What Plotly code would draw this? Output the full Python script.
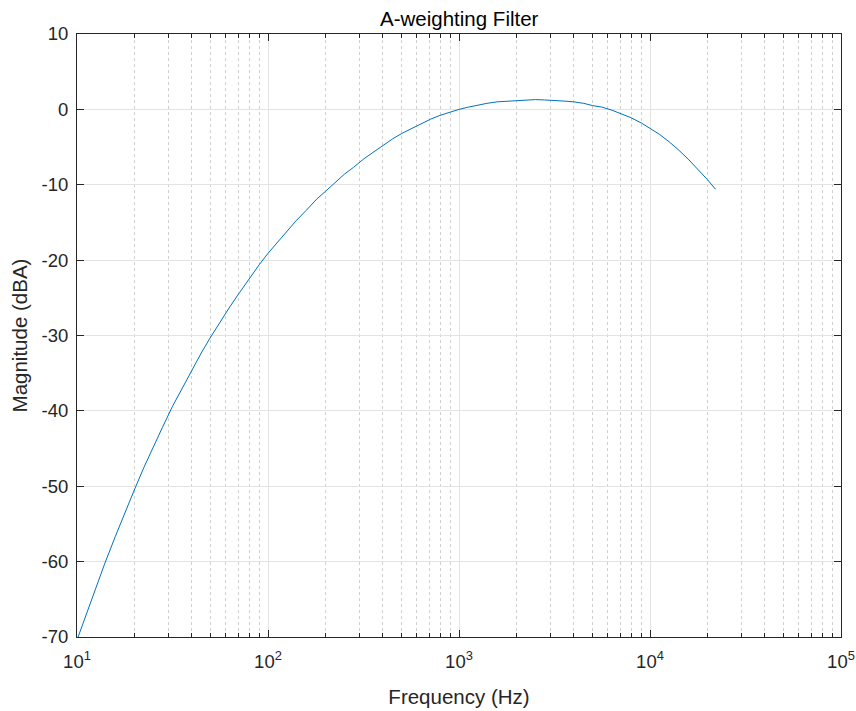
import plotly.graph_objects as go

# Frequencies (Hz) and magnitudes (dBA)
freq_hz = [10, 11.2, 12.59, 14, 15.85, 18, 19.95, 22.4, 25.12, 28, 31.62, 35.5, 39.81,
           45, 50.12, 56, 63.1, 71, 79.43, 90, 100, 112, 125.9, 140, 158.5, 180, 199.5,
           224, 251.2, 280, 316.2, 355, 398.1, 450, 501.2, 560, 631, 710, 794.3, 900,
           1000, 1120, 1259, 1400, 1585, 1800, 1995, 2240, 2512, 2800, 3162, 3550,
           3981, 4500, 5012, 5600, 6310, 7100, 7943, 9000, 10000, 11200, 12589, 14000,
           15849, 18000, 19953, 22050]
mag_dba = [-70.4, -66.9, -63.4, -60.2, -56.7, -53.2, -50.5, -47.5, -44.7, -42.2, -39.4,
           -37.0, -34.6, -32.2, -30.2, -28.2, -26.2, -24.3, -22.5, -20.6, -19.1, -17.6,
           -16.1, -14.8, -13.4, -11.9, -10.9, -9.7, -8.6, -7.7, -6.6, -5.7, -4.8, -3.9,
           -3.2, -2.6, -1.9, -1.3, -0.8, -0.35, 0.0, 0.3, 0.6, 0.8, 1.0, 1.1, 1.2, 1.25,
           1.3, 1.25, 1.2, 1.1, 1.0, 0.8, 0.5, 0.3, -0.1, -0.6, -1.1, -1.8, -2.5, -3.3,
           -4.3, -5.3, -6.6, -8.05, -9.3, -10.6]

x_tick_vals = [10, 100, 1000, 10000, 100000]
x_tick_text = ["10<sup>1</sup>", "10<sup>2</sup>", "10<sup>3</sup>", "10<sup>4</sup>", "10<sup>5</sup>"]
y_tick_vals = [-70, -60, -50, -40, -30, -20, -10, 0, 10]
y_tick_text = ["-70", "-60", "-50", "-40", "-30", "-20", "-10", "0", "10"]

FONT = "Liberation Sans, Arial, Helvetica, sans-serif"
AX = "#262626"

fig = go.Figure()
fig.add_trace(go.Scatter(x=freq_hz, y=mag_dba, mode="lines",
                         line=dict(color="#0072BD", width=1),
                         showlegend=False, cliponaxis=True))

fig.update_layout(
    width=856, height=711,
    margin=dict(l=77, r=15, t=34, b=74),
    paper_bgcolor="white", plot_bgcolor="white",
    font=dict(family=FONT, color=AX, size=18),
    title=dict(text="A-weighting Filter", x=0.5365, xanchor="center",
               y=1 - 18.5 / 711, yanchor="middle", yref="container",
               font=dict(size=20.5, color="black")),
)

fig.update_xaxes(
    type="log", range=[1, 5],
    tickvals=x_tick_vals, ticktext=x_tick_text,
    ticks="inside", ticklen=7, tickwidth=1, tickcolor=AX,
    showline=True, linecolor=AX, linewidth=1, mirror="ticks",
    showgrid=True, gridcolor="#e3e3e3", gridwidth=1,
    zeroline=False,
    tickfont=dict(size=18.5, color=AX), ticklabelstandoff=8,
    minor=dict(dtick="D1", ticks="inside", ticklen=4, tickcolor=AX,
               showgrid=True, gridcolor="#cfcfcf", griddash="dot", gridwidth=1),
    title=dict(text="Frequency (Hz)", font=dict(size=20.5, color=AX), standoff=18),
    automargin=False,
)
fig.update_yaxes(
    range=[-70, 10], tickvals=y_tick_vals, ticktext=y_tick_text,
    ticks="inside", ticklen=7, tickwidth=1, tickcolor=AX,
    showline=True, linecolor=AX, linewidth=1, mirror="ticks",
    showgrid=True, gridcolor="#e3e3e3", gridwidth=1,
    zeroline=False,
    tickfont=dict(size=18.5, color=AX), ticklabelstandoff=4,
    title=dict(text="Magnitude (dBA)", font=dict(size=20.5, color=AX), standoff=8),
    automargin=False,
)

fig.write_html("out.html")
